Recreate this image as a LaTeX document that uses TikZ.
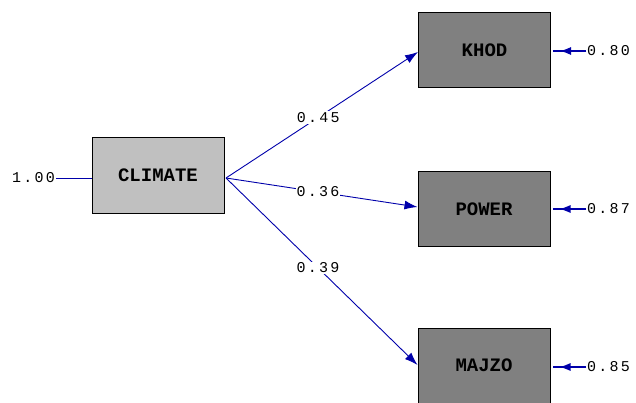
\documentclass[tikz,border=0pt]{standalone}
\usepackage{fontspec}
\setmonofont{Liberation Mono}
\usetikzlibrary{arrows.meta}
\definecolor{edgeblue}{RGB}{0,0,170}
\definecolor{latgray}{RGB}{192,192,192}
\definecolor{obsgray}{RGB}{128,128,128}
\tikzset{
  varbox/.style={draw=black, line width=1pt, minimum width=132pt, minimum height=75pt, inner sep=0pt, font=\ttfamily\bfseries\fontsize{19}{19}\selectfont},
  latbox/.style={varbox, fill=latgray},
  obsbox/.style={varbox, fill=obsgray},
  numlab/.style={font=\ttfamily\fontsize{15}{15}\selectfont\addfontfeature{LetterSpace=15}, inner sep=1pt},
  pathlab/.style={numlab, fill=white, pos=0.48},
  patharrow/.style={draw=edgeblue, line width=0.9pt, -{Latex[length=13pt,width=9pt]}},
  errline/.style={draw=edgeblue, line width=1.2pt, shorten >=2pt},
  errarrow/.style={draw=edgeblue, line width=1.2pt, -{Latex[length=11pt,width=8pt]}, shorten >=9pt}
}
\begin{document}
\begin{tikzpicture}[x=1pt,y=-1pt]
\useasboundingbox (0,0) rectangle (636,403);
\node[latbox] (climate) at (158,175.5) {CLIMATE};
\node[obsbox] (khod) at (484.5,50.5) {KHOD};
\node[obsbox] (power) at (484,209) {POWER};
\node[obsbox] (majzo) at (484,365.5) {MAJZO};
\coordinate (src) at (226,178);
\node[numlab, anchor=east] (cvar) at (56,178) {1.00};
\draw[edgeblue, line width=0.9pt] (cvar.east) -- (climate.west |- cvar.east);
\draw[patharrow] (src) -- node[pathlab] {0.45} (khod.west |- 0,52);
\draw[patharrow] (src) -- node[pathlab] {0.36} (power.west |- 0,207);
\draw[patharrow] (src) -- node[pathlab] {0.39} (majzo.west |- 0,365);
\node[numlab, anchor=west] (ekhod) at (586,51) {0.80};
\node[numlab, anchor=west] (epower) at (586,209) {0.87};
\node[numlab, anchor=west] (emajzo) at (586,367) {0.85};
\draw[errline] (ekhod.west) -- (khod.east |- ekhod.west);
\draw[errline] (epower.west) -- (power.east |- epower.west);
\draw[errline] (emajzo.west) -- (majzo.east |- emajzo.west);
\draw[errarrow] (ekhod.west) -- (khod.east |- ekhod.west);
\draw[errarrow] (epower.west) -- (power.east |- epower.west);
\draw[errarrow] (emajzo.west) -- (majzo.east |- emajzo.west);
\end{tikzpicture}
\end{document}
